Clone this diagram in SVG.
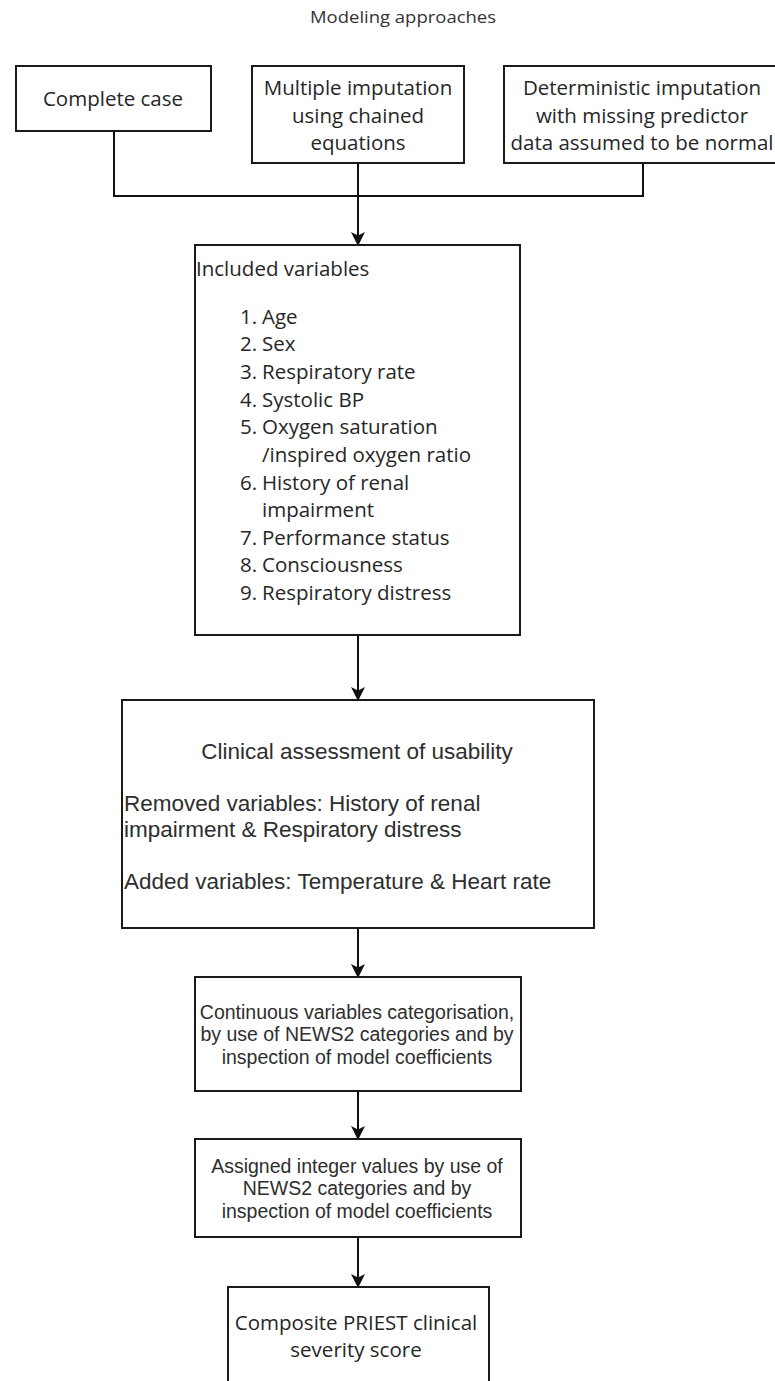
<svg xmlns="http://www.w3.org/2000/svg" width="775" height="1381" viewBox="0 0 775 1381">
<style>
  .box { fill: #ffffff; stroke: #1a1a1a; stroke-width: 2; }
  .cal { font-family: "Open Sans", "Noto Sans", sans-serif; font-size: 20.5px; fill: #262626; }
  .ari { font-family: "Liberation Sans", Arial, sans-serif; fill: #2e2e2e; }
  .big { font-size: 22.5px; }
  .sm { font-size: 19.5px; }
  .title { font-family: "Open Sans", "Noto Sans", sans-serif; font-size: 17px; fill: #333333; }
  .mid { text-anchor: middle; }
  .conn { fill: none; stroke: #111111; stroke-width: 2; }
</style>
<defs>
  <marker id="arrow" viewBox="0 0 14 14" refX="13" refY="7" markerWidth="14" markerHeight="14" markerUnits="userSpaceOnUse" orient="auto">
    <path d="M0,0 L14,7 L0,14 L3.5,7 Z" fill="#111111"/>
  </marker>
</defs>
<rect width="775" height="1381" fill="#ffffff"/>

<g id="title">
  <text class="title mid" x="403" y="23" textLength="186" lengthAdjust="spacingAndGlyphs">Modeling approaches</text>
</g>

<g id="connectors">
  <polyline class="conn" points="114,131 114,196 643,196 643,163"/>
  <line class="conn" x1="358" y1="163" x2="358" y2="245" marker-end="url(#arrow)"/>
  <line class="conn" x1="358" y1="635" x2="358" y2="700" marker-end="url(#arrow)"/>
  <line class="conn" x1="358" y1="928" x2="358" y2="977" marker-end="url(#arrow)"/>
  <line class="conn" x1="358" y1="1091" x2="358" y2="1139" marker-end="url(#arrow)"/>
  <line class="conn" x1="358" y1="1237" x2="358" y2="1287" marker-end="url(#arrow)"/>
</g>

<g id="complete-case">
  <rect class="box" x="16" y="66" width="195" height="65"/>
  <text class="cal mid" x="113" y="106">Complete case</text>
</g>

<g id="multiple-imputation">
  <rect class="box" x="252" y="66" width="212" height="97"/>
  <text class="cal mid" x="358" y="95">Multiple imputation</text>
  <text class="cal mid" x="358" y="123">using chained</text>
  <text class="cal mid" x="358" y="150">equations</text>
</g>

<g id="deterministic-imputation">
  <rect class="box" x="504" y="66" width="290" height="97"/>
  <text class="cal mid" x="642" y="95">Deterministic imputation</text>
  <text class="cal mid" x="642" y="123">with missing predictor</text>
  <text class="cal mid" x="642" y="150">data assumed to be normal</text>
</g>

<g id="included-variables">
  <rect class="box" x="195" y="245" width="325" height="390"/>
  <text class="cal" x="196" y="276">Included variables</text>
  <text class="cal" x="240" y="324">1.</text><text class="cal" x="262" y="324">Age</text>
  <text class="cal" x="240" y="351">2.</text><text class="cal" x="262" y="351">Sex</text>
  <text class="cal" x="240" y="379">3.</text><text class="cal" x="262" y="379">Respiratory rate</text>
  <text class="cal" x="240" y="407">4.</text><text class="cal" x="262" y="407">Systolic BP</text>
  <text class="cal" x="240" y="434">5.</text><text class="cal" x="262" y="434">Oxygen saturation</text>
  <text class="cal" x="262" y="462">/inspired oxygen ratio</text>
  <text class="cal" x="240" y="490">6.</text><text class="cal" x="262" y="490">History of renal</text>
  <text class="cal" x="262" y="517">impairment</text>
  <text class="cal" x="240" y="545">7.</text><text class="cal" x="262" y="545">Performance status</text>
  <text class="cal" x="240" y="572">8.</text><text class="cal" x="262" y="572">Consciousness</text>
  <text class="cal" x="240" y="600">9.</text><text class="cal" x="262" y="600">Respiratory distress</text>
</g>

<g id="clinical-assessment">
  <rect class="box" x="122" y="700" width="472" height="228"/>
  <text class="ari big mid" x="357" y="759">Clinical assessment of usability</text>
  <text class="ari big" x="124" y="811">Removed variables: History of renal</text>
  <text class="ari big" x="124" y="837">impairment &amp; Respiratory distress</text>
  <text class="ari big" x="124" y="889">Added variables: Temperature &amp; Heart rate</text>
</g>

<g id="categorisation">
  <rect class="box" x="195" y="977" width="326" height="114"/>
  <text class="ari sm mid" x="357" y="1019">Continuous variables categorisation,</text>
  <text class="ari sm mid" x="357" y="1041">by use of NEWS2 categories and by</text>
  <text class="ari sm mid" x="357" y="1064">inspection of model coefficients</text>
</g>

<g id="integer-values">
  <rect class="box" x="195" y="1139" width="326" height="98"/>
  <text class="ari sm mid" x="357" y="1173">Assigned integer values by use of</text>
  <text class="ari sm mid" x="357" y="1195">NEWS2 categories and by</text>
  <text class="ari sm mid" x="357" y="1218">inspection of model coefficients</text>
</g>

<g id="composite-score">
  <rect class="box" x="228" y="1287" width="261" height="120"/>
  <text class="cal mid" x="356" y="1330">Composite PRIEST clinical</text>
  <text class="cal mid" x="356" y="1357">severity score</text>
</g>
</svg>
